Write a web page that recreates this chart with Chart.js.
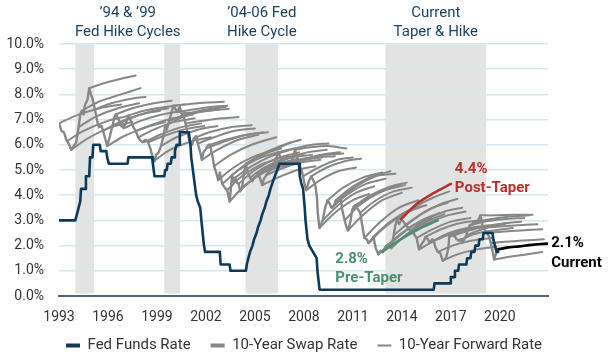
<!DOCTYPE html>
<html><head><meta charset="utf-8">
<script src="https://cdn.jsdelivr.net/npm/chart.js@4"></script>
<style>html,body{margin:0;padding:0;background:#fff;}#wrap{width:608px;height:357px;position:relative;}</style>
</head><body><div id="wrap"><canvas id="c"></canvas></div>
<script>
// ---------- DATA ----------
const xTickYears = [1993, 1996, 1999, 2002, 2005, 2008, 2011, 2014, 2017, 2020];
const yTickValues = [0, 1, 2, 3, 4, 5, 6, 7, 8, 9, 10];

const shadedPeriods = [[1994.0, 1995.15], [1999.45, 2000.42], [2004.42, 2006.42], [2013.0, 2019.15]];
const periodTitles = [["\u201994 & \u201999", "Fed Hike Cycles"], ["\u201904-06 Fed", "Hike Cycle"], ["Current", "Taper & Hike"]];
const periodTitleSpans = [[0, 1], [2, 2], [3, 3]];

const ffYears = [1993.0,1994.0,1994.1,1994.2,1994.3,1994.35,1994.6,1994.65,1994.85,1994.9,1995.05,1995.1,1995.5,1995.55,1995.9,1995.95,1996.05,1997.2,1997.25,1998.7,1998.75,1998.8,1998.85,1999.45,1999.5,1999.6,1999.65,1999.85,1999.9,2000.05,2000.1,2000.2,2000.35,2000.4,2000.95,2001.05,2001.1,2001.2,2001.3,2001.4,2001.5,2001.65,2001.72,2001.8,2001.88,2001.95,2002.85,2002.9,2003.45,2003.5,2004.45,2004.5,2004.6,2004.7,2004.85,2004.95,2005.1,2005.2,2005.35,2005.45,2005.6,2005.7,2005.85,2005.95,2006.08,2006.22,2006.37,2006.5,2007.7,2007.75,2007.83,2007.95,2008.05,2008.1,2008.22,2008.33,2008.78,2008.83,2008.96,2015.95,2016.0,2016.95,2017.0,2017.2,2017.25,2017.45,2017.5,2017.95,2018.0,2018.2,2018.25,2018.45,2018.5,2018.7,2018.75,2018.95,2019.0,2019.55,2019.6,2019.7,2019.8,2019.9];
const ffRates = [3.0,3.0,3.25,3.5,3.75,4.25,4.25,4.75,4.75,5.5,5.5,6.0,6.0,5.75,5.75,5.5,5.25,5.25,5.5,5.5,5.25,5.0,4.75,4.75,5.0,5.0,5.25,5.25,5.5,5.5,5.75,6.0,6.0,6.5,6.5,6.0,5.5,5.0,4.5,4.0,3.75,3.5,3.0,2.5,2.0,1.75,1.75,1.25,1.25,1.0,1.0,1.25,1.5,1.75,2.0,2.25,2.5,2.75,3.0,3.25,3.5,3.75,4.0,4.25,4.5,4.75,5.0,5.25,5.25,4.75,4.5,4.25,3.5,3.0,2.25,2.0,1.5,1.0,0.25,0.25,0.5,0.5,0.75,0.75,1.0,1.0,1.25,1.25,1.5,1.5,1.75,1.75,2.0,2.0,2.25,2.25,2.5,2.5,2.25,2.0,1.75,1.75];

const swapYears = [1993.0,1993.15,1993.3,1993.45,1993.6,1993.75,1993.9,1994.05,1994.2,1994.3,1994.4,1994.5,1994.6,1994.75,1994.85,1994.95,1995.05,1995.2,1995.35,1995.45,1995.6,1995.7,1995.85,1995.95,1996.1,1996.25,1996.4,1996.5,1996.65,1996.8,1996.95,1997.1,1997.25,1997.4,1997.55,1997.7,1997.85,1997.95,1998.1,1998.3,1998.45,1998.6,1998.75,1998.85,1998.95,1999.1,1999.25,1999.4,1999.5,1999.6,1999.75,1999.9,2000.0,2000.15,2000.25,2000.4,2000.5,2000.65,2000.75,2000.9,2001.0,2001.15,2001.25,2001.4,2001.5,2001.65,2001.75,2001.85,2002.0,2002.15,2002.25,2002.4,2002.5,2002.65,2002.75,2002.85,2003.0,2003.15,2003.3,2003.45,2003.55,2003.6,2003.7,2003.8,2003.9,2004.0,2004.1,2004.2,2004.35,2004.45,2004.55,2004.7,2004.85,2004.95,2005.1,2005.2,2005.35,2005.45,2005.55,2005.7,2005.85,2005.95,2006.1,2006.2,2006.35,2006.45,2006.6,2006.7,2006.85,2006.95,2007.1,2007.2,2007.35,2007.45,2007.55,2007.7,2007.85,2007.95,2008.05,2008.15,2008.3,2008.45,2008.6,2008.7,2008.8,2008.85,2008.95,2009.05,2009.15,2009.3,2009.45,2009.55,2009.7,2009.85,2009.95,2010.1,2010.25,2010.35,2010.5,2010.6,2010.7,2010.85,2010.95,2011.05,2011.15,2011.3,2011.45,2011.6,2011.7,2011.85,2011.95,2012.1,2012.25,2012.4,2012.55,2012.7,2012.8,2012.9,2013.0,2013.15,2013.35,2013.5,2013.6,2013.7,2013.85,2013.95,2014.1,2014.25,2014.4,2014.5,2014.65,2014.8,2014.9,2015.0,2015.05,2015.2,2015.35,2015.45,2015.6,2015.7,2015.85,2015.95,2016.05,2016.2,2016.35,2016.5,2016.6,2016.7,2016.85,2016.9,2017.05,2017.2,2017.35,2017.5,2017.6,2017.7,2017.85,2017.95,2018.05,2018.15,2018.3,2018.45,2018.6,2018.75,2018.8,2018.9,2018.95,2019.05,2019.2,2019.35,2019.45,2019.55,2019.65,2019.75,2019.8,2019.9];
const swapRates = [6.85,6.55,6.5,6.2,6.05,5.8,5.95,6.1,6.7,7.2,7.35,7.2,7.6,7.8,8.25,8.0,7.85,7.4,6.9,6.7,6.75,6.55,6.2,5.95,6.3,6.7,7.1,7.2,7.0,6.75,6.7,6.85,7.15,6.95,6.7,6.55,6.3,6.2,6.1,6.2,6.1,5.85,5.45,5.35,5.6,5.7,5.95,6.35,6.75,6.6,6.95,7.3,7.55,7.4,7.3,7.5,7.25,7.1,6.85,6.4,6.1,6.0,6.25,6.35,6.05,5.7,5.4,5.7,5.85,6.0,6.0,5.55,5.15,4.85,4.6,4.9,4.45,4.3,4.2,3.75,4.4,4.8,4.55,4.7,4.5,4.45,4.15,4.25,4.95,5.25,4.9,4.7,4.55,4.7,4.75,4.9,4.6,4.4,4.65,4.8,4.95,5.0,5.1,5.3,5.55,5.7,5.45,5.2,5.15,5.2,5.3,5.25,5.55,5.8,5.6,5.2,5.0,4.75,4.4,4.2,4.55,4.75,4.55,4.4,3.9,3.3,2.7,2.85,3.0,3.5,3.8,3.7,3.5,3.6,3.8,3.75,3.9,3.4,3.0,2.75,2.6,2.95,3.4,3.55,3.6,3.45,3.3,2.7,2.3,2.25,2.1,2.2,2.35,1.9,1.65,1.8,1.75,1.85,1.95,2.05,1.9,2.4,2.8,3.0,2.85,3.05,2.95,2.8,2.7,2.6,2.55,2.4,2.3,2.0,1.85,2.05,2.2,2.35,2.25,2.1,2.25,2.2,1.95,1.75,1.7,1.4,1.45,1.5,1.9,2.35,2.4,2.4,2.25,2.2,2.25,2.1,2.3,2.4,2.65,2.8,2.85,2.95,2.9,3.1,3.2,2.95,2.7,2.65,2.5,2.35,2.1,1.8,1.45,1.65,1.75,1.85];

const forwardCurves = [
  [[1993.0,6.85],[1994.0,7.15],[1995.5,7.45],[1996.8,7.6]],
  [[1993.5,6.15],[1994.5,6.55],[1996.0,6.95],[1997.3,7.15]],
  [[1993.75,5.8],[1994.75,6.25],[1996.2,6.7],[1997.5,6.9]],
  [[1994.2,6.7],[1995.2,7.1],[1996.6,7.45],[1997.9,7.65]],
  [[1994.4,7.35],[1995.4,7.7],[1996.8,8.0],[1998.0,8.25]],
  [[1994.85,8.25],[1995.8,8.45],[1996.8,8.62],[1997.7,8.75]],
  [[1995.2,7.4],[1996.2,7.65],[1997.6,7.85],[1998.3,7.9]],
  [[1995.7,6.55],[1996.7,6.9],[1998.0,7.2],[1999.2,7.35]],
  [[1995.95,5.95],[1997.0,6.35],[1998.4,6.7],[1999.5,6.9]],
  [[1996.25,6.7],[1997.2,7.0],[1998.5,7.3],[1999.7,7.45]],
  [[1996.45,7.2],[1997.5,7.45],[1998.8,7.65],[1999.9,7.75]],
  [[1996.95,6.65],[1998.0,6.95],[1999.3,7.2],[2000.5,7.35]],
  [[1997.2,7.15],[1998.2,7.35],[1999.5,7.5],[2000.7,7.6]],
  [[1997.7,6.55],[1998.7,6.8],[2000.0,7.05],[2001.2,7.2]],
  [[1997.85,6.3],[1998.8,6.6],[2000.0,6.9],[2001.3,7.05]],
  [[1998.2,6.1],[1999.2,6.4],[2000.5,6.7],[2001.7,6.85]],
  [[1998.45,6.1],[1999.4,6.35],[2000.6,6.6],[2001.9,6.75]],
  [[1998.8,5.35],[1999.8,5.8],[2001.2,6.15],[2002.3,6.3]],
  [[1999.25,5.95],[2000.2,6.3],[2001.5,6.6],[2002.7,6.75]],
  [[1999.5,6.75],[2000.4,7.05],[2001.6,7.3],[2002.8,7.4]],
  [[1999.75,6.95],[2000.8,7.2],[2002.0,7.4],[2003.2,7.5]],
  [[2000.0,7.55],[2001.0,7.62],[2002.1,7.68],[2003.1,7.71]],
  [[2000.25,7.3],[2001.2,7.4],[2002.3,7.5],[2003.3,7.55]],
  [[2000.5,7.25],[2001.5,7.3],[2002.5,7.38],[2003.4,7.42]],
  [[2000.75,6.85],[2001.8,6.95],[2003.0,7.05],[2004.0,7.1]],
  [[2001.25,6.25],[2002.2,6.5],[2003.5,6.7],[2004.8,6.78]],
  [[2001.5,6.05],[2002.5,6.3],[2003.7,6.55],[2005.0,6.65]],
  [[2001.75,5.4],[2002.7,5.8],[2004.0,6.2],[2005.2,6.4]],
  [[2002.0,5.85],[2003.0,6.1],[2004.2,6.35],[2005.5,6.5]],
  [[2002.25,6.0],[2003.2,6.2],[2004.5,6.4],[2005.8,6.5]],
  [[2002.5,5.15],[2003.5,5.6],[2004.8,6.0],[2006.3,6.3]],
  [[2002.75,4.6],[2003.7,5.1],[2005.0,5.55],[2006.6,5.85]],
  [[2003.0,4.45],[2004.0,5.0],[2005.4,5.5],[2007.0,5.8]],
  [[2003.3,4.2],[2004.2,4.75],[2005.5,5.25],[2007.0,5.55]],
  [[2003.45,3.75],[2004.4,4.4],[2005.8,5.0],[2007.2,5.35]],
  [[2003.6,4.8],[2004.6,5.3],[2006.0,5.75],[2007.2,6.1]],
  [[2003.8,4.7],[2004.8,5.15],[2006.0,5.55],[2007.4,5.85]],
  [[2004.0,4.45],[2005.0,5.0],[2006.3,5.45],[2007.7,5.7]],
  [[2004.2,4.25],[2005.1,4.75],[2006.3,5.2],[2007.6,5.45]],
  [[2004.45,5.25],[2005.5,5.65],[2006.8,6.0],[2007.8,6.2]],
  [[2004.7,4.7],[2005.6,5.1],[2006.8,5.45],[2008.0,5.65]],
  [[2004.95,4.7],[2005.9,5.05],[2007.2,5.35],[2008.4,5.5]],
  [[2005.2,4.9],[2006.1,5.2],[2007.3,5.5],[2008.5,5.6]],
  [[2005.45,4.4],[2006.4,4.7],[2007.6,5.0],[2008.7,5.15]],
  [[2005.7,4.8],[2006.6,5.05],[2007.8,5.3],[2009.0,5.4]],
  [[2005.95,5.0],[2006.9,5.2],[2008.0,5.4],[2009.1,5.5]],
  [[2006.2,5.3],[2007.1,5.5],[2008.2,5.7],[2009.4,5.8]],
  [[2006.45,5.7],[2007.4,5.85],[2008.5,6.0],[2009.5,6.05]],
  [[2006.7,5.2],[2007.6,5.35],[2008.7,5.5],[2009.9,5.55]],
  [[2006.95,5.2],[2007.9,5.4],[2009.0,5.6],[2010.2,5.7]],
  [[2007.2,5.25],[2008.1,5.45],[2009.2,5.6],[2010.4,5.65]],
  [[2007.45,5.8],[2008.4,5.9],[2009.5,5.95],[2010.6,5.85]],
  [[2007.95,4.75],[2008.9,5.1],[2010.0,5.4],[2011.0,5.5]],
  [[2008.15,4.2],[2009.0,4.6],[2010.1,4.95],[2011.2,5.1]],
  [[2008.45,4.75],[2009.4,5.1],[2010.5,5.35],[2011.5,5.45]],
  [[2008.95,2.7],[2009.9,3.3],[2011.0,3.8],[2012.0,4.05]],
  [[2009.15,3.0],[2010.1,3.6],[2011.2,4.1],[2012.3,4.35]],
  [[2009.45,3.8],[2010.4,4.3],[2011.6,4.7],[2012.8,4.9]],
  [[2009.7,3.5],[2010.6,4.0],[2011.8,4.45],[2013.0,4.65]],
  [[2009.95,3.8],[2010.9,4.3],[2012.0,4.7],[2013.3,4.95]],
  [[2010.25,3.9],[2011.2,4.35],[2012.4,4.75],[2013.6,4.85]],
  [[2010.5,3.0],[2011.4,3.6],[2012.6,4.1],[2013.8,4.4]],
  [[2010.7,2.6],[2011.6,3.2],[2012.8,3.8],[2014.0,4.1]],
  [[2010.95,3.4],[2011.9,3.85],[2013.0,4.2],[2014.2,4.4]],
  [[2011.15,3.6],[2012.1,4.0],[2013.3,4.35],[2014.3,4.5]],
  [[2011.45,3.3],[2012.3,3.75],[2013.5,4.15],[2014.6,4.3]],
  [[2011.7,2.3],[2012.6,2.9],[2013.8,3.5],[2015.0,3.8]],
  [[2011.95,2.1],[2012.9,2.7],[2014.1,3.25],[2015.2,3.55]],
  [[2012.25,2.35],[2013.2,2.9],[2014.4,3.4],[2015.5,3.6]],
  [[2012.55,1.65],[2013.5,2.2],[2014.7,2.8],[2015.8,3.1]],
  [[2013.0,1.95],[2014.0,2.5],[2015.2,3.0],[2016.3,3.3]],
  [[2013.35,1.9],[2014.3,2.45],[2015.5,2.95],[2016.6,3.25]],
  [[2013.5,2.4],[2014.5,2.95],[2015.7,3.45],[2016.8,3.7]],
  [[2013.7,3.0],[2014.7,3.5],[2015.9,3.9],[2016.9,4.15]],
  [[2014.25,2.8],[2015.2,3.25],[2016.4,3.65],[2017.4,3.85]],
  [[2014.5,2.6],[2015.4,3.0],[2016.6,3.35],[2017.7,3.5]],
  [[2014.65,2.55],[2015.6,2.9],[2016.8,3.2],[2017.9,3.35]],
  [[2014.9,2.3],[2015.9,2.65],[2017.0,2.95],[2018.2,3.1]],
  [[2015.05,1.85],[2016.0,2.2],[2017.2,2.5],[2018.4,2.65]],
  [[2015.45,2.35],[2016.4,2.65],[2017.6,2.9],[2018.8,3.0]],
  [[2015.7,2.1],[2016.6,2.4],[2017.8,2.65],[2019.0,2.75]],
  [[2015.95,2.2],[2016.9,2.5],[2018.0,2.7],[2019.3,2.8]],
  [[2016.2,1.75],[2017.1,2.0],[2018.3,2.2],[2019.5,2.3]],
  [[2016.5,1.4],[2017.4,1.65],[2018.6,1.85],[2019.8,1.95]],
  [[2016.9,2.35],[2017.9,2.6],[2019.0,2.75],[2020.3,2.85]],
  [[2017.2,2.4],[2018.1,2.6],[2019.3,2.8],[2020.5,2.9]],
  [[2017.5,2.2],[2018.4,2.45],[2019.6,2.6],[2020.8,2.7]],
  [[2017.95,2.4],[2018.9,2.65],[2020.0,2.85],[2021.3,2.95]],
  [[2018.15,2.8],[2019.0,2.95],[2020.2,3.05],[2021.5,3.1]],
  [[2018.45,2.95],[2019.4,3.05],[2020.6,3.15],[2021.8,3.2]],
  [[2018.8,3.2],[2019.7,3.2],[2020.8,3.22],[2022.0,3.22]],
  [[2018.95,2.7],[2019.8,2.75],[2020.9,2.8],[2022.3,2.85]],
  [[2019.2,2.5],[2020.1,2.55],[2021.3,2.6],[2022.6,2.65]],
  [[2019.45,2.1],[2020.3,2.15],[2021.4,2.2],[2022.7,2.25]],
  [[2019.65,1.45],[2020.5,1.55],[2021.6,1.65],[2022.6,1.75]]
];
const preTaperCurve = [[2012.8,1.75],[2013.8,2.2],[2015.0,2.65],[2016.2,3.0]];
const postTaperCurve = [[2013.95,3.05],[2014.9,3.65],[2016.0,4.1],[2017.0,4.45]];
const currentCurve = [[2019.9,1.85],[2020.5,1.93],[2021.2,1.97],[2021.8,2.02],[2022.9,2.08]];
const curveLabels = [["2.8%", "Pre-Taper"], ["4.4%", "Post-Taper"], ["2.1%", "Current"]];

// ---------- STYLE ----------
const NAVY = '#0d3a5a', GRAY = '#878787', RED = '#b7322b', GREEN = '#4a8f6f', BLACK = '#000000';
const TITLE_COLOR = '#1a3d5c';
Chart.defaults.font.family = 'Roboto, "Noto Sans", sans-serif';

const toXY = (xs, ys) => xs.map((x, i) => ({x: x, y: ys[i]}));
const curveXY = c => c.map(p => ({x: p[0], y: p[1]}));

const datasets = [
  {label: 'Fed Funds Rate', data: toXY(ffYears, ffRates), borderColor: NAVY, borderWidth: 2.6},
  {label: 'Pre-Taper', data: curveXY(preTaperCurve), borderColor: GREEN, borderWidth: 2.6, tension: 0.3},
  {label: 'Post-Taper', data: curveXY(postTaperCurve), borderColor: RED, borderWidth: 2.6, tension: 0.3},
  {label: 'Current', data: curveXY(currentCurve), borderColor: BLACK, borderWidth: 2.6, tension: 0.2},
  {label: '10-Year Swap Rate', data: toXY(swapYears, swapRates), borderColor: GRAY, borderWidth: 2.4}
].concat(forwardCurves.map(c => ({label: '10-Year Forward Rate', data: curveXY(c), borderColor: GRAY, borderWidth: 2, tension: 0.3})));

const shadePlugin = {
  id: 'shade',
  beforeDraw(chart) {
    const {ctx, scales: {x, y}} = chart;
    ctx.save();
    ctx.fillStyle = '#e3e3e3';
    shadedPeriods.forEach(([a, b]) => {
      const x0 = x.getPixelForValue(a), x1 = x.getPixelForValue(b);
      const y0 = y.getPixelForValue(10), y1 = y.getPixelForValue(0.1);
      ctx.fillRect(x0, y0, x1 - x0, y1 - y0);
    });
    ctx.restore();
  },
  afterDraw(chart) {
    const {ctx, scales: {x, y}} = chart;
    ctx.save();
    ctx.textAlign = 'center';
    ctx.textBaseline = 'middle';
    ctx.fillStyle = TITLE_COLOR;
    ctx.font = '15px Roboto';
    periodTitles.forEach((lines, i) => {
      const [s, e] = periodTitleSpans[i];
      const cx = (x.getPixelForValue(shadedPeriods[s][0]) + x.getPixelForValue(shadedPeriods[e][1])) / 2;
      ctx.fillText(lines[0], cx, 13);
      ctx.fillText(lines[1], cx, 32);
    });
    ctx.font = 'bold 15px Roboto';
    ctx.textAlign = 'left';
    let sx = x.getPixelForValue(preTaperCurve[0][0]), sy = y.getPixelForValue(preTaperCurve[0][1]);
    ctx.fillStyle = GREEN;
    ctx.fillText(curveLabels[0][0], sx - 47, sy + 7);
    ctx.fillText(curveLabels[0][1], sx - 47, sy + 26);
    const pe = postTaperCurve[postTaperCurve.length - 1];
    sx = x.getPixelForValue(pe[0]); sy = y.getPixelForValue(pe[1]);
    ctx.fillStyle = RED;
    ctx.fillText(curveLabels[1][0], sx + 4, sy - 15);
    ctx.fillText(curveLabels[1][1], sx + 4, sy + 4);
    const ce = currentCurve[currentCurve.length - 1];
    sx = x.getPixelForValue(ce[0]); sy = y.getPixelForValue(ce[1]);
    ctx.fillStyle = BLACK;
    ctx.fillText(curveLabels[2][0], sx + 4, sy);
    ctx.fillText(curveLabels[2][1], sx + 4, sy + 20);
    ctx.restore();
  }
};

new Chart(document.getElementById('c'), {
  type: 'line',
  data: {datasets: datasets},
  options: {
    responsive: true,
    maintainAspectRatio: false,
    animation: false,
    layout: {padding: {top: 44, left: 0, right: 0, bottom: -6}},
    elements: {point: {radius: 0, hoverRadius: 0}, line: {tension: 0, borderCapStyle: 'round', borderJoinStyle: 'round'}},
    scales: {
      x: {
        type: 'linear', min: 1993, max: 2022.95,
        afterBuildTicks: s => { s.ticks = xTickYears.map(v => ({value: v})); },
        afterFit: s => { s.height = 22; s._computeLabelArea = () => undefined; },
        grid: {display: false, drawTicks: false},
        border: {display: true, color: '#4f6578', width: 2},
        ticks: {padding: 13, color: '#333333', font: {size: 14}, callback: v => String(v)}
      },
      y: {
        type: 'linear', min: 0, max: 10,
        afterBuildTicks: s => { s.ticks = yTickValues.map(v => ({value: v})); },
        afterFit: s => { s.width = 59; },
        grid: {color: ctx => ctx.tick && ctx.tick.value === 0 ? 'rgba(0,0,0,0)' : '#d6e7ef', lineWidth: 1.6, drawTicks: false},
        border: {display: false},
        ticks: {padding: 15, color: '#333333', font: {size: 14}, callback: v => v.toFixed(1) + '%'}
      },
      yRight: {
        type: 'linear', position: 'right', min: 0, max: 1, display: true,
        afterFit: s => { s.width = 60; },
        grid: {display: false, drawTicks: false},
        border: {display: false},
        ticks: {display: false}
      }
    },
    plugins: {
      tooltip: {enabled: false},
      legend: {
        position: 'bottom',
        labels: {
          usePointStyle: true, pointStyleWidth: 14, boxHeight: 14, padding: 20,
          color: '#333333', font: {size: 15},
          generateLabels: () => [
            {text: 'Fed Funds Rate', strokeStyle: NAVY, fillStyle: NAVY, lineWidth: 4, pointStyle: 'line', hidden: false, datasetIndex: 0, fontColor: '#333333'},
            {text: '10-Year Swap Rate', strokeStyle: GRAY, fillStyle: GRAY, lineWidth: 4, pointStyle: 'line', hidden: false, datasetIndex: 4, fontColor: '#333333'},
            {text: '10-Year Forward Rate', strokeStyle: GRAY, fillStyle: GRAY, lineWidth: 2, pointStyle: 'line', hidden: false, datasetIndex: 5, fontColor: '#333333'}
          ]
        }
      }
    }
  },
  plugins: [shadePlugin]
});
</script>
</body></html>
